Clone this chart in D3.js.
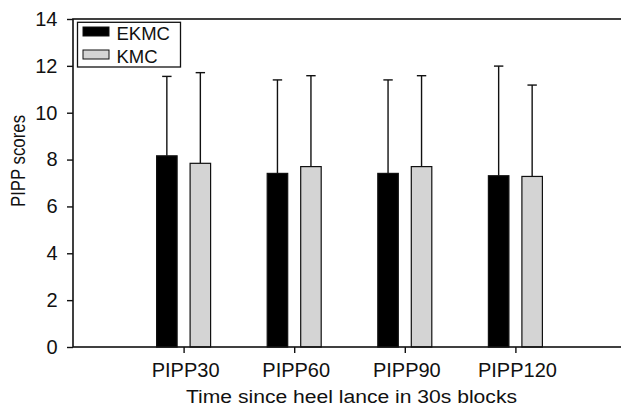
<!DOCTYPE html>
<html>
<head>
<meta charset="utf-8">
<script src="https://cdn.jsdelivr.net/npm/d3@7"></script>
<style>
  html, body { margin: 0; padding: 0; background: #fff; }
  svg { display: block; font-family: "Liberation Sans", Arial, Helvetica, sans-serif; }
</style>
</head>
<body>
<svg id="chart" width="621" height="409"></svg>
<script>
const categories = ["PIPP30", "PIPP60", "PIPP90", "PIPP120"];
const seriesNames = ["EKMC", "KMC"];
const ekmcMean = [8.16, 7.41, 7.41, 7.31];
const ekmcSD   = [3.39, 3.99, 3.99, 4.68];
const kmcMean  = [7.84, 7.70, 7.70, 7.28];
const kmcSD    = [3.87, 3.88, 3.88, 3.90];
const yTicks = [0, 2, 4, 6, 8, 10, 12, 14];
const xTitle = "Time since heel lance in 30s blocks";
const yTitle = "PIPP scores";

(function () {
const seriesColors = { EKMC: "#000000", KMC: "#d4d4d4" };
const data = categories.map((c, i) => ({
  cat: c,
  values: [
    { s: "EKMC", mean: ekmcMean[i], sd: ekmcSD[i] },
    { s: "KMC", mean: kmcMean[i], sd: kmcSD[i] }
  ]
}));

const svg = d3.select("#chart");
const mLeft = 73, mTop = 19, mBottom = 347, mRight = 626;
const step = (mRight - mLeft) / 5;

const y = d3.scaleLinear().domain([0, 14]).range([mBottom, mTop]);
const x = d3.scalePoint().domain(categories).range([mLeft + step, mLeft + 4 * step]);
const xInner = d3.scaleBand().domain(seriesNames).range([-27, 27]).paddingInner(0.388);

// bars
const groups = svg.append("g").selectAll("g").data(data).join("g")
  .attr("transform", d => `translate(${x(d.cat)},0)`);

groups.selectAll("line.err").data(d => d.values).join("line")
  .attr("class", "err")
  .attr("x1", d => xInner(d.s) + xInner.bandwidth() / 2)
  .attr("x2", d => xInner(d.s) + xInner.bandwidth() / 2)
  .attr("y1", d => y(d.mean))
  .attr("y2", d => y(d.mean + d.sd))
  .attr("stroke", "#111").attr("stroke-width", 1.4);

groups.selectAll("line.cap").data(d => d.values).join("line")
  .attr("class", "cap")
  .attr("x1", d => xInner(d.s) + xInner.bandwidth() / 2 - 4.7)
  .attr("x2", d => xInner(d.s) + xInner.bandwidth() / 2 + 4.7)
  .attr("y1", d => y(d.mean + d.sd))
  .attr("y2", d => y(d.mean + d.sd))
  .attr("stroke", "#111").attr("stroke-width", 1.4);

groups.selectAll("rect").data(d => d.values).join("rect")
  .attr("x", d => xInner(d.s))
  .attr("width", xInner.bandwidth())
  .attr("y", d => y(d.mean))
  .attr("height", d => y(0) - y(d.mean))
  .attr("fill", d => seriesColors[d.s])
  .attr("stroke", "#111").attr("stroke-width", 1.2);

// frame
svg.append("rect")
  .attr("x", mLeft).attr("y", mTop)
  .attr("width", mRight - mLeft).attr("height", mBottom - mTop)
  .attr("fill", "none").attr("stroke", "#111").attr("stroke-width", 1.6);

// y axis
const yAxis = d3.axisLeft(y).tickValues(yTicks).tickSize(6).tickPadding(8).tickFormat(d3.format("d"));
const gy = svg.append("g").attr("transform", `translate(${mLeft},0)`).call(yAxis);
gy.select(".domain").remove();
gy.selectAll(".tick line").attr("stroke", "#111").attr("stroke-width", 1.4);
gy.selectAll(".tick text").attr("font-size", 20).attr("fill", "#111")
  .attr("font-family", "Liberation Sans, Arial, sans-serif").attr("x", -15.5);

// x axis
const xAxis = d3.axisBottom(x).tickSize(6).tickPadding(10);
const gx = svg.append("g").attr("transform", `translate(0,${mBottom})`).call(xAxis);
gx.select(".domain").remove();
gx.selectAll(".tick line").attr("stroke", "#111").attr("stroke-width", 1.4);
gx.selectAll(".tick text").attr("font-size", 20).attr("fill", "#111")
  .attr("font-family", "Liberation Sans, Arial, sans-serif")
  .attr("dy", null).attr("y", 29.5).attr("dx", 1.5);

// axis titles
svg.append("text")
  .attr("transform", "translate(351.5,403) scale(1.135,1)")
  .attr("text-anchor", "middle")
  .attr("font-size", 18.6).attr("fill", "#111")
  .text(xTitle);

svg.append("text")
  .attr("transform", "translate(24.5,161) scale(1.2,1) rotate(-90)")
  .attr("text-anchor", "middle")
  .attr("font-size", 16.8).attr("fill", "#111")
  .text(yTitle);

// legend
const legend = svg.append("g");
legend.append("rect")
  .attr("x", 77.5).attr("y", 22.3).attr("width", 103).attr("height", 44.7)
  .attr("fill", "#fff").attr("stroke", "#111").attr("stroke-width", 1.3);
const items = legend.selectAll("g.item").data(seriesNames).join("g")
  .attr("class", "item")
  .attr("transform", (d, i) => `translate(0,${i * 23})`);
items.append("rect")
  .attr("x", 83).attr("y", 27).attr("width", 26).attr("height", 9)
  .attr("fill", d => seriesColors[d]).attr("stroke", "#111").attr("stroke-width", 1);
items.append("text")
  .attr("x", 116.5).attr("y", 39.8)
  .attr("font-size", 18.5).attr("fill", "#111")
  .text(d => d);
})();
</script>
</body>
</html>
